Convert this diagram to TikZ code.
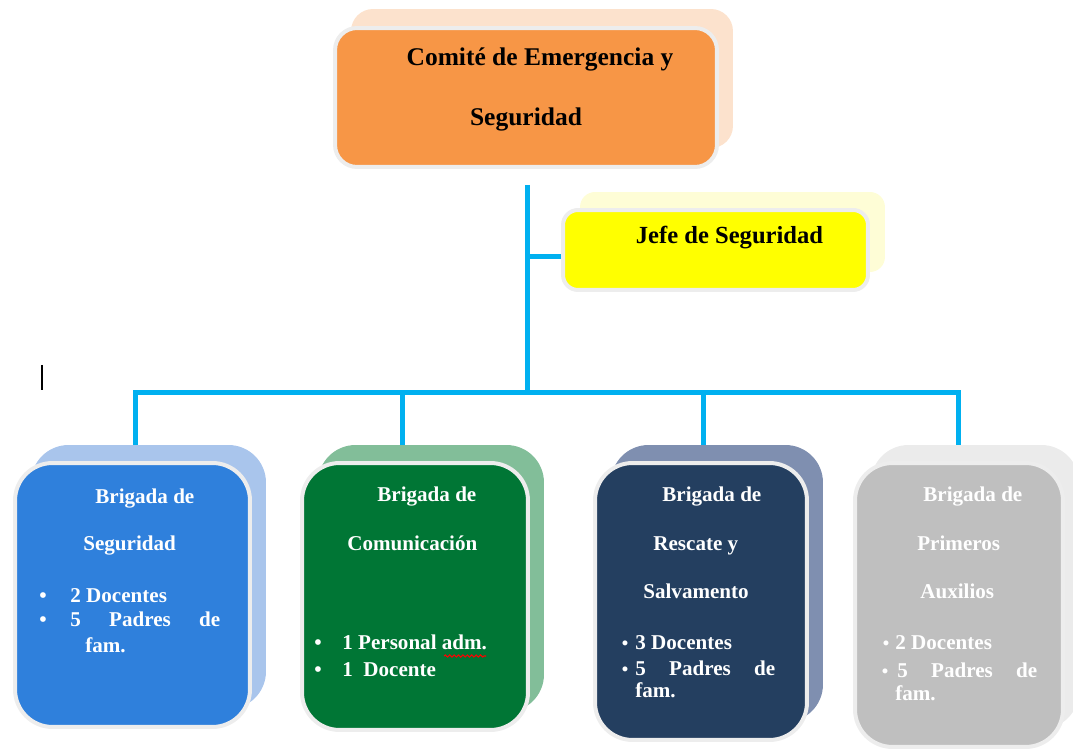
\documentclass[tikz,border=0pt]{standalone}
\usepackage{fontspec}
\setmainfont{Liberation Serif}
\usepackage{tikz}
\usetikzlibrary{decorations.pathmorphing}

\definecolor{linkblue}{HTML}{00B0F0}
\definecolor{orangefront}{HTML}{F79646}
\definecolor{orangeback}{HTML}{FCE2CD}
\definecolor{yellowfront}{HTML}{FFFF00}
\definecolor{yellowback}{HTML}{FEFDD6}
\definecolor{bluefront}{HTML}{2F80DC}
\definecolor{blueback}{HTML}{A9C5EC}
\definecolor{greenfront}{HTML}{007635}
\definecolor{greenback}{HTML}{82BE99}
\definecolor{navyfront}{HTML}{243F60}
\definecolor{navyback}{HTML}{7F8FB0}
\definecolor{grayfront}{HTML}{BFBFBF}
\definecolor{grayback}{HTML}{EBEBEB}

\tikzset{
  front/.style = {draw=black!7, line width=0.08cm, rounded corners=0.75cm, inner sep=0pt},
  back/.style = {rounded corners=0.75cm, inner sep=0pt},
  link/.style = {draw=linkblue, line width=0.1cm},
  toptext/.style = {font=\bfseries\fontsize{14.5}{17}\selectfont, anchor=base, inner sep=0pt},
  brig/.style = {font=\bfseries\fontsize{12}{14}\selectfont, text=white, anchor=base west, inner sep=0pt},
  dot/.style = {font=\bfseries\fontsize{12}{14}\selectfont, text=white, anchor=base, inner sep=0pt},
  smalldot/.style = {dot, font=\bfseries\fontsize{10.5}{12}\selectfont}
}

\begin{document}
\begin{tikzpicture}[x=0.02cm, y=-0.02cm]
  \useasboundingbox (0,0) rectangle (1073,749);

  % top boxes
  \node[back, fill=orangeback, rounded corners=0.44cm, minimum width=7.64cm, minimum height=2.78cm] (ceos) at (542,78.5) {};
  \node[front, fill=orangefront, rounded corners=0.44cm, minimum width=7.64cm, minimum height=2.78cm] (ceo) at (526,97.5) {};
  \node[toptext] (ceot1) at (540,66) {Comité de Emergencia y};
  \node[toptext] (ceot2) at (526,126) {Seguridad};

  \node[back, fill=yellowback, rounded corners=0.3cm, minimum width=6.1cm, minimum height=1.6cm] (jefes) at (732.5,232) {};
  \node[front, fill=yellowfront, rounded corners=0.3cm, minimum width=6.1cm, minimum height=1.6cm] (jefe) at (715.5,250) {};
  \node[toptext, font=\bfseries\fontsize{14}{17}\selectfont] (jefet) at (729.5,244) {Jefe de Seguridad};

  % brigadas
  \node[back, fill=blueback, minimum width=4.7cm, minimum height=5.28cm] (b1s) at (148.5,577) {};
  \node[front, fill=bluefront, minimum width=4.7cm, minimum height=5.28cm] (b1) at (132.5,595) {};
  \node[back, fill=greenback, minimum width=4.52cm, minimum height=5.34cm] (b2s) at (431,578.5) {};
  \node[front, fill=greenfront, minimum width=4.52cm, minimum height=5.34cm] (b2) at (415,596.5) {};
  \node[back, fill=navyback, minimum width=4.24cm, minimum height=5.54cm] (b3s) at (717,583.5) {};
  \node[front, fill=navyfront, minimum width=4.24cm, minimum height=5.54cm] (b3) at (701,601.5) {};
  \node[back, fill=grayback, minimum width=4.16cm, minimum height=5.68cm] (b4s) at (975,587) {};
  \node[front, fill=grayfront, minimum width=4.16cm, minimum height=5.68cm] (b4) at (959,605) {};

  % connectors
  \coordinate (t0) at (527,185);
  \coordinate (t1) at (527,393);
  \coordinate (jb) at (527,257);
  \coordinate (d1) at (135,445);
  \coordinate (d2) at (402,445);
  \coordinate (d3) at (703,445);
  \coordinate (d4) at (958,445);
  \draw[link] (t0) -- (t1);
  \draw[link] (jb) -- (jb -| jefe.west);
  \draw[link, line join=miter] (d1) -- (d1 |- t1) -- (d4 |- t1) -- (d4);
  \draw[link] (d2) -- (d2 |- t1);
  \draw[link] (d3) -- (d3 |- t1);

  % texto brigada 1
  \node[brig] (b1t1) at (95,504) {Brigada de};
  \node[brig] (b1t2) at (83,551) {Seguridad};
  \node[dot] (b1d1) at (43,603) {•};
  \node[dot] (b1d2) at (43,627) {•};
  \node[brig] (b1l1) at (70,603) {2 Docentes};
  \node[brig] (b1l2) at (70,627) {\makebox[3cm][s]{5 Padres de}};
  \node[brig] (b1l3) at (85,653) {fam.};

  % texto brigada 2
  \node[brig] (b2t1) at (377,502) {Brigada de};
  \node[brig] (b2t2) at (347,551) {Comunicación};
  \node[dot] (b2d1) at (318,650) {•};
  \node[dot] (b2d2) at (318,677) {•};
  \node[brig] (b2l1) at (342,650) {1 Personal adm.};
  \node[brig] (b2l2) at (342,677) {1\ \ Docente};
  \draw[red, line width=0.6pt, decorate, decoration={snake, amplitude=0.6pt, segment length=2.5pt}] (444,656) -- (486,656);

  % texto brigada 3
  \node[brig] (b3t1) at (662,502) {Brigada de};
  \node[brig] (b3t2) at (653,551) {Rescate y};
  \node[brig] (b3t3) at (643,599) {Salvamento};
  \node[smalldot] (b3d1) at (625,650) {•};
  \node[smalldot] (b3d2) at (625,676) {•};
  \node[brig] (b3l1) at (635,650) {3 Docentes};
  \node[brig] (b3l2) at (635,676) {\makebox[2.8cm][s]{5 Padres de}};
  \node[brig] (b3l3) at (635,698) {fam.};

  % texto brigada 4
  \node[brig] (b4t1) at (923,502) {Brigada de};
  \node[brig] (b4t2) at (917,551) {Primeros};
  \node[brig] (b4t3) at (920,599) {Auxilios};
  \node[smalldot] (b4d1) at (886,650) {•};
  \node[smalldot] (b4d2) at (885,678) {•};
  \node[brig] (b4l1) at (895,650) {2 Docentes};
  \node[brig] (b4l2) at (897,678) {\makebox[2.8cm][s]{5 Padres de}};
  \node[brig] (b4l3) at (895,701) {fam.};

  % cursor
  \draw[black, line width=0.6pt] (42,365) -- (42,390);
\end{tikzpicture}
\end{document}
